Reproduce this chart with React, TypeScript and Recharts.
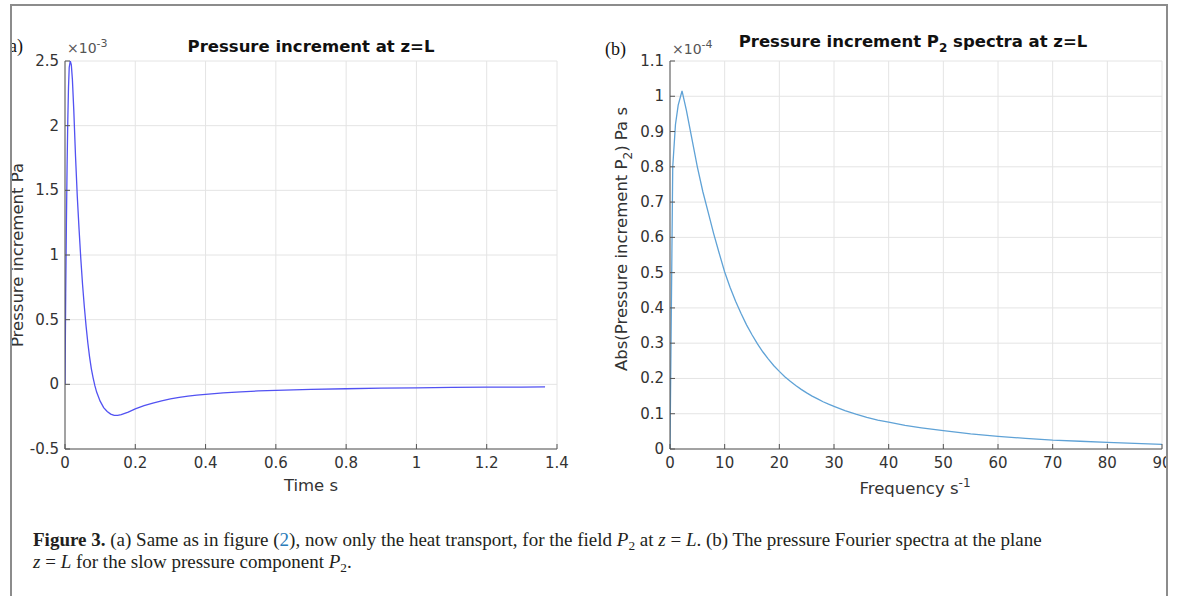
import React from 'react';
import { LineChart, Line, XAxis, YAxis, CartesianGrid } from 'recharts';

// Panel (a): pressure increment at z=L (units 1e-3 Pa) vs time (s)
const timeS = [0, 0.002, 0.004, 0.006, 0.008, 0.01, 0.012, 0.015, 0.018, 0.021, 0.025, 0.03, 0.035, 0.04, 0.045, 0.05, 0.055, 0.06, 0.065, 0.07, 0.075, 0.08, 0.085, 0.09, 0.1, 0.11, 0.12, 0.13, 0.14, 0.15, 0.16, 0.18, 0.2, 0.225, 0.25, 0.275, 0.3, 0.325, 0.35, 0.375, 0.4, 0.45, 0.5, 0.55, 0.6, 0.7, 0.8, 0.9, 1.0, 1.1, 1.2, 1.3, 1.366];
const pressureA = [0, 0.7, 1.25, 1.7, 2.05, 2.3, 2.45, 2.5, 2.47, 2.36, 2.12, 1.76, 1.45, 1.2, 0.97, 0.77, 0.6, 0.45, 0.32, 0.21, 0.12, 0.05, -0.01, -0.06, -0.13, -0.18, -0.21, -0.23, -0.24, -0.24, -0.235, -0.215, -0.19, -0.165, -0.145, -0.127, -0.113, -0.101, -0.091, -0.083, -0.077, -0.066, -0.058, -0.051, -0.046, -0.039, -0.034, -0.03, -0.027, -0.024, -0.022, -0.021, -0.02];
const xTicksA = [0, 0.2, 0.4, 0.6, 0.8, 1, 1.2, 1.4];
const yTicksA = [-0.5, 0, 0.5, 1, 1.5, 2, 2.5];

// Panel (b): |P2| spectrum (units 1e-4 Pa s) vs frequency (1/s)
const freq = [0, 0.5, 1, 1.5, 2.2, 3, 4, 5, 6, 7, 8, 9, 10, 11, 12, 13, 14, 15, 16, 17, 18, 19, 20, 21, 22, 23, 24, 25, 26, 27, 28, 29, 30, 32, 34, 36, 38, 40, 43, 46, 50, 55, 60, 65, 70, 75, 80, 85, 90];
const spectrumB = [0, 0.8, 0.92, 0.975, 1.015, 0.96, 0.88, 0.8, 0.73, 0.67, 0.61, 0.555, 0.502, 0.458, 0.419, 0.384, 0.352, 0.324, 0.298, 0.275, 0.255, 0.236, 0.22, 0.205, 0.192, 0.18, 0.169, 0.159, 0.15, 0.142, 0.134, 0.127, 0.121, 0.109, 0.099, 0.09, 0.082, 0.076, 0.067, 0.06, 0.052, 0.043, 0.036, 0.03, 0.025, 0.022, 0.019, 0.016, 0.013];
const xTicksB = [0, 10, 20, 30, 40, 50, 60, 70, 80, 90];
const yTicksB = [0, 0.1, 0.2, 0.3, 0.4, 0.5, 0.6, 0.7, 0.8, 0.9, 1, 1.1];

const dataA = timeS.map((t, i) => ({ x: t, y: pressureA[i] }));
const dataB = freq.map((f, i) => ({ x: f, y: spectrumB[i] }));

const SANS = '"DejaVu Sans", sans-serif';
const SERIF = '"Liberation Serif", "DejaVu Serif", serif';
const AXIS = '#555555';
const TXT = '#333333';
const GRID = '#e4e4e4';

const fmt = (v: number) => String(Number(v.toFixed(2)));

const XTick = (props: any) => {
  const { x, y, payload } = props;
  return (
    <g>
      <line x1={x} x2={x} y1={y} y2={y - 5} stroke={AXIS} strokeWidth={1} />
      <text x={x} y={y + 19} textAnchor="middle" fill={TXT} fontSize={15} fontFamily={SANS}>
        {fmt(payload.value)}
      </text>
    </g>
  );
};

const YTick = (props: any) => {
  const { x, y, payload } = props;
  return (
    <g>
      <line x1={x} x2={x + 5} y1={y} y2={y} stroke={AXIS} strokeWidth={1} />
      <text x={x - 6} y={y + 5} textAnchor="end" fill={TXT} fontSize={15} fontFamily={SANS}>
        {fmt(payload.value)}
      </text>
    </g>
  );
};

const subStyle: React.CSSProperties = { fontSize: '0.7em', verticalAlign: '-0.3em', lineHeight: 0 };

export default function App() {
  return (
    <div style={{ position: 'absolute', left: 0, top: 0, width: 1179, height: 596, background: '#fff', overflow: 'hidden' }}>
      {/* Panel (a) */}
      <div style={{ position: 'absolute', left: 0, top: 0 }}>
        <LineChart width={600} height={500} data={dataA} margin={{ top: 61, right: 43, bottom: 11, left: 5 }}>
          <CartesianGrid stroke={GRID} horizontalValues={yTicksA} verticalValues={xTicksA} />
          <XAxis dataKey="x" type="number" domain={[0, 1.4]} ticks={xTicksA} height={40} tickSize={0} tickMargin={0} tickLine={false} axisLine={{ stroke: AXIS }} tick={<XTick />} interval={0} allowDataOverflow />
          <YAxis dataKey="y" type="number" domain={[-0.5, 2.5]} ticks={yTicksA} width={60} tickSize={0} tickMargin={0} tickLine={false} axisLine={{ stroke: AXIS }} tick={<YTick />} interval={0} allowDataOverflow />
          <Line dataKey="y" stroke="#5252f2" strokeWidth={1.3} dot={false} isAnimationActive={false} type="linear" />
        </LineChart>
      </div>
      {/* Panel (b) */}
      <div style={{ position: 'absolute', left: 600, top: 0 }}>
        <LineChart width={579} height={500} data={dataB} margin={{ top: 61, right: 17, bottom: 11, left: 10 }}>
          <CartesianGrid stroke={GRID} horizontalValues={yTicksB} verticalValues={xTicksB} />
          <XAxis dataKey="x" type="number" domain={[0, 90]} ticks={xTicksB} height={40} tickSize={0} tickMargin={0} tickLine={false} axisLine={{ stroke: AXIS }} tick={<XTick />} interval={0} allowDataOverflow />
          <YAxis dataKey="y" type="number" domain={[0, 1.1]} ticks={yTicksB} width={60} tickSize={0} tickMargin={0} tickLine={false} axisLine={{ stroke: AXIS }} tick={<YTick />} interval={0} allowDataOverflow />
          <Line dataKey="y" stroke="#5fa2d6" strokeWidth={1.3} dot={false} isAnimationActive={false} type="linear" />
        </LineChart>
      </div>
      {/* Text overlay */}
      <svg width={1179} height={596} style={{ position: 'absolute', left: 0, top: 0, pointerEvents: 'none' }}>
        <defs>
          <clipPath id="clipLeft">
            <rect x={12} y={0} width={1167} height={596} />
          </clipPath>
        </defs>
        {/* Panel a texts */}
        <text x={311} y={52} textAnchor="middle" fontSize={16.5} fontWeight="bold" fontFamily={SANS} fill="#111">Pressure increment at z=L</text>
        <text x={67} y={53} fontSize={14} fontFamily={SANS} fill="#555">
          ×10<tspan dy={-6} fontSize={11}>-3</tspan>
        </text>
        <text x={311} y={491} textAnchor="middle" fontSize={16.5} fontFamily={SANS} fill={TXT}>Time s</text>
        <g clipPath="url(#clipLeft)">
          <text transform="translate(23,255) rotate(-90)" textAnchor="middle" fontSize={16.5} fontFamily={SANS} fill={TXT}>Pressure increment Pa</text>
        </g>
        <text x={3} y={52} fontSize={18} fontFamily={SERIF} fill="#111">(a)</text>
        {/* Panel b texts */}
        <text x={913} y={47} textAnchor="middle" fontSize={16.5} fontWeight="bold" fontFamily={SANS} fill="#111">
          Pressure increment P<tspan dy={5} fontSize={12}>2</tspan><tspan dy={-5}> spectra at z=L</tspan>
        </text>
        <text x={672} y={54} fontSize={14} fontFamily={SANS} fill="#555">
          ×10<tspan dy={-6} fontSize={11}>-4</tspan>
        </text>
        <text x={915} y={494} textAnchor="middle" fontSize={16.5} fontFamily={SANS} fill={TXT}>
          Frequency s<tspan dy={-7} fontSize={12}>-1</tspan>
        </text>
        <text transform="translate(627,239) rotate(-90)" textAnchor="middle" fontSize={16.5} fontFamily={SANS} fill={TXT}>
          Abs(Pressure increment P<tspan dy={5} fontSize={12}>2</tspan><tspan dy={-5}>) Pa s</tspan>
        </text>
        <text x={605} y={55} fontSize={18} fontFamily={SERIF} fill="#111">(b)</text>
      </svg>
      {/* Caption */}
      <div style={{ position: 'absolute', left: 33, top: 529, width: 1130, fontFamily: SERIF, fontSize: 19, lineHeight: '22px', color: '#231f20', whiteSpace: 'nowrap' }}>
        <b>Figure 3.</b> (a) Same as in figure (<span style={{ color: '#2b7bb9' }}>2</span>), now only the heat transport, for the field <i>P</i><span style={subStyle}>2</span> at <i>z</i> = <i>L</i>. (b) The pressure Fourier spectra at the plane
        <br />
        <i>z</i> = <i>L</i> for the slow pressure component <i>P</i><span style={subStyle}>2</span>.
      </div>
      {/* white covers and frame */}
      <div style={{ position: 'absolute', left: 0, top: 0, width: 10, height: 596, background: '#fff' }} />
      <div style={{ position: 'absolute', left: 1168, top: 0, width: 11, height: 596, background: '#fff' }} />
      <div style={{ position: 'absolute', left: 10, top: 4, width: 1154, height: 620, border: '2px solid #8c8c8c', borderBottom: 'none' }} />
    </div>
  );
}
